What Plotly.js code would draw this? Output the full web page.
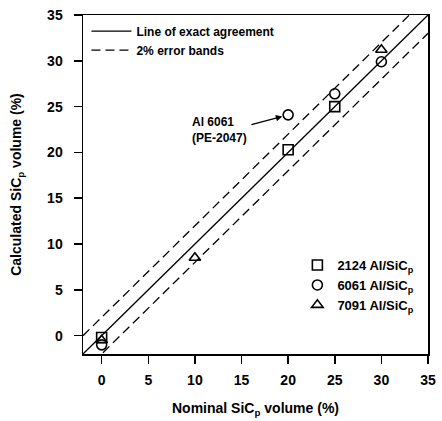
<!DOCTYPE html>
<html>
<head>
<meta charset="utf-8">
<script src="https://cdn.plot.ly/plotly-3.0.1.min.js"></script>
<style>html,body{margin:0;padding:0;background:#fff;}#chart{width:442px;height:421px;}</style>
</head>
<body>
<div id="chart"></div>
<script>
const lineX = [-2, 35];
const bandOffset = 2;

const x2124 = [0, 20, 25];
const y2124 = [-0.2, 20.3, 25.0];

const x6061 = [0, 20, 25, 30];
const y6061 = [-1.0, 24.1, 26.4, 29.9];

const x7091 = [0, 10, 30];
const y7091 = [-0.5, 8.5, 31.2];

const xTicks = [0, 5, 10, 15, 20, 25, 30, 35];
const yTicks = [0, 5, 10, 15, 20, 25, 30, 35];

const F = 'Liberation Sans, Arial, sans-serif';
const mk = (sym) => ({symbol: sym, size: 10, color: '#000', line: {color: '#000', width: 1.6}});

const traces = [
  {x: lineX, y: lineX, mode: 'lines', name: 'Line of exact agreement', line: {color: '#000', width: 1.3}, legend: 'legend'},
  {x: lineX, y: lineX.map(v => v + bandOffset), mode: 'lines', name: '2% error bands', line: {color: '#000', width: 1.3, dash: '9px,5px'}, legend: 'legend', legendgroup: 'b'},
  {x: lineX, y: lineX.map(v => v - bandOffset), mode: 'lines', name: '2% error bands', line: {color: '#000', width: 1.3, dash: '9px,5px'}, showlegend: false, legendgroup: 'b'},
  {x: x2124, y: y2124, mode: 'markers', name: '2124 Al/SiC<sub>p</sub>', marker: mk('square-open'), legend: 'legend2'},
  {x: x6061, y: y6061, mode: 'markers', name: '6061 Al/SiC<sub>p</sub>', marker: mk('circle-open'), legend: 'legend2'},
  {x: x7091, y: y7091, mode: 'markers', name: '7091 Al/SiC<sub>p</sub>', marker: mk('triangle-up-open'), legend: 'legend2'}
];

const axisCommon = {
  showgrid: false, zeroline: false, showline: true, linecolor: '#000', linewidth: 1.5,
  mirror: true, ticks: 'outside', ticklen: 8, tickwidth: 1.5, tickcolor: '#000',
  tickfont: {family: F, size: 14, color: '#000', weight: 'bold'}
};

const layout = {
  width: 442, height: 421,
  margin: {l: 83, r: 14, t: 15, b: 67},
  paper_bgcolor: '#fff', plot_bgcolor: '#fff',
  font: {family: F, color: '#000'},
  xaxis: Object.assign({}, axisCommon, {
    range: [-2, 35], tickvals: xTicks, ticktext: xTicks.map(String), ticklabelstandoff: 5,
    title: {text: 'Nominal SiC<sub>p</sub> volume (%)', font: {family: F, size: 14, color: '#000', weight: 'bold'}, standoff: 16}
  }),
  yaxis: Object.assign({}, axisCommon, {
    range: [-2, 35], tickvals: yTicks, ticktext: yTicks.map(String), ticklabelstandoff: 8,
    title: {text: 'Calculated SiC<sub>p</sub> volume (%)', font: {family: F, size: 14, color: '#000', weight: 'bold'}, standoff: 22}
  }),
  legend: {x: 0.01, y: 0.995, xanchor: 'left', yanchor: 'top', bgcolor: 'rgba(0,0,0,0)',
    font: {family: F, size: 12, color: '#000', weight: 'bold'}, itemwidth: 40, tracegroupgap: 0},
  legend2: {x: 0.975, y: 0.1, xanchor: 'right', yanchor: 'bottom', bgcolor: 'rgba(0,0,0,0)',
    font: {family: F, size: 13, color: '#000', weight: 'bold'}, tracegroupgap: 0, itemwidth: 30},
  annotations: [
    {x: 12.6, y: 22.4, xref: 'x', yref: 'y', text: 'Al 6061<br>(PE-2047)', showarrow: false,
     xanchor: 'center', yanchor: 'middle', align: 'left',
     font: {family: F, size: 12, color: '#000', weight: 'bold'}},
    {x: 20, y: 24.1, xref: 'x', yref: 'y', ax: 15.9, ay: 23.0, axref: 'x', ayref: 'y',
     text: '', showarrow: true, arrowhead: 2, arrowsize: 1, arrowwidth: 1.3,
     arrowcolor: '#000', standoff: 6}
  ],
  showlegend: true
};

Plotly.newPlot('chart', traces, layout, {displayModeBar: false, staticPlot: true});
</script>
</body>
</html>
